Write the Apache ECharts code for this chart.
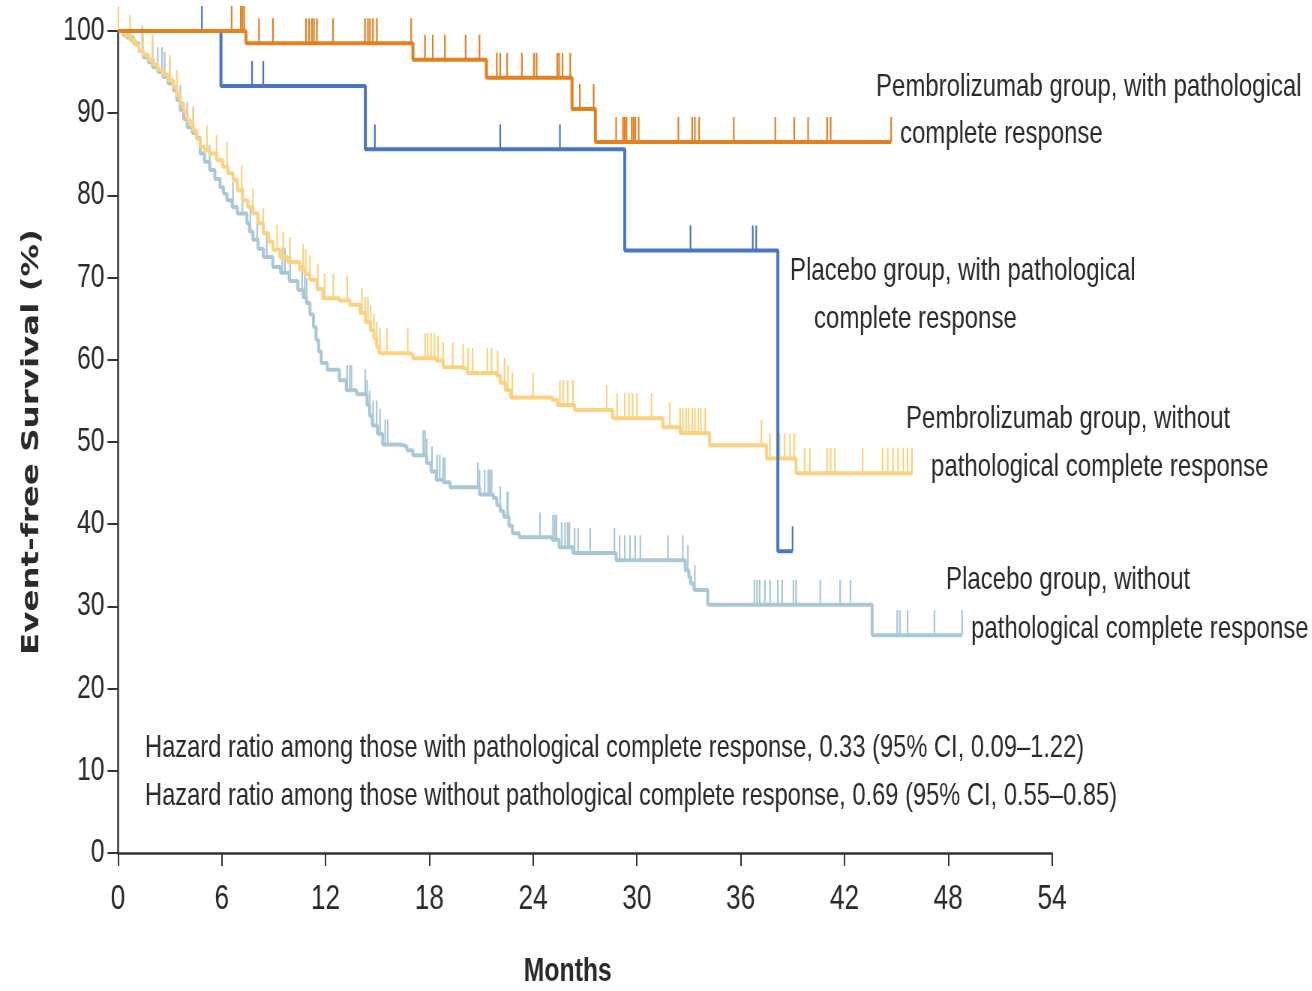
<!DOCTYPE html>
<html>
<head>
<meta charset="utf-8">
<script src="https://cdn.jsdelivr.net/npm/echarts@6/dist/echarts.min.js"></script>
<style>
  html, body { margin: 0; padding: 0; background: #fff; overflow: hidden; }
  #chart { height: 991px; transform-origin: 0 0; }
</style>
</head>
<body>
<div id="chart"></div>
<script>
// Event-free survival by treatment group and pathological response (Kaplan-Meier)

// Pembrolizumab, with pathological complete response: [month, survival %] after each event
const pembroPcrSteps = [[0,100],[7.4,98.5],[17.05,96.5],[21.3,94.3],[26.25,90.5],[27.6,86.5],[44.7,86.5]];
const pembroPcrCensored = [6.57,7.1,7.2,7.3,8.15,8.96,10.87,11.04,11.21,11.33,11.5,12.43,14.28,14.45,14.57,14.74,14.97,16.95,
  17.75,18.2,18.9,20.1,20.9,21.9,22.1,22.5,23.35,24.05,24.2,25.4,25.5,25.7,26.15,26.7,27.5,
  28.8,29.2,29.3,29.4,29.7,29.8,29.9,30.1,32.4,33.2,33.35,33.6,35.6,38.0,39.1,39.9,41.0,41.2,44.7];

// Placebo, with pathological complete response
const placeboPcrSteps = [[0,100],[5.95,93.3],[14.3,85.6],[29.3,73.3],[38.15,36.7],[39.0,36.7]];
const placeboPcrCensored = [4.85,7.75,8.4,14.85,22.1,25.55,33.1,36.7,36.9,39.0];

// Pembrolizumab, without pathological complete response
const pembroNoPcrSteps = [[0,100],[0.4,99.5],[0.7,98.9],[1.0,98.3],[1.2,97.6],[1.45,97.1],[1.75,96.5],[2.05,95.9],[2.3,95.3],
  [2.6,94.7],[2.9,94.0],[3.2,93.2],[3.4,92.2],[3.6,91.2],[3.8,90.2],[4.0,89.1],[4.2,88.5],[4.35,87.9],[4.55,86.9],[4.75,85.9],
  [5.0,85.5],[5.3,85.1],[5.7,84.3],[6.05,83.5],[6.35,82.7],[6.65,81.9],[6.9,80.6],[7.2,79.4],[7.5,78.6],[7.8,77.8],[8.1,76.6],
  [8.4,75.4],[8.7,74.4],[8.95,73.4],[9.35,72.5],[9.8,71.9],[10.5,71.0],[10.8,70.4],[11.1,69.7],[11.5,68.6],[11.85,67.5],
  [12.8,67.2],[13.4,66.7],[14.0,65.7],[14.3,64.6],[14.6,63.6],[14.8,62.6],[14.95,61.6],[15.1,60.8],[16.9,60.6],[17.05,60.2],
  [18.4,59.9],[18.8,59.1],[19.8,58.9],[20.2,58.4],[21.9,58.1],[22.1,57.2],[22.4,56.3],[22.7,55.4],[25.1,55.1],[25.4,54.5],
  [26.4,53.9],[28.6,52.9],[31.5,51.8],[32.5,51.1],[34.2,49.6],[37.5,48.0],[39.2,46.2],[45.95,46.2]];
const pembroNoPcrCensored = [0.02,0.7,1.45,2.0,3.0,3.4,4.35,5.15,5.7,6.3,7.15,7.8,8.4,9.2,9.55,9.95,10.7,10.85,11.1,11.55,11.95,
  12.45,13.25,14.1,14.3,14.45,14.6,14.8,14.95,15.15,15.55,16.75,17.75,17.9,18.1,18.3,18.5,18.8,19.35,19.95,20.25,20.5,
  21.35,21.6,21.95,22.35,22.55,22.8,24.0,25.55,25.75,26.0,26.3,28.25,28.85,29.3,29.55,29.75,30.0,30.85,31.9,
  32.5,32.65,32.85,33.0,33.2,33.35,33.55,33.7,33.95,37.2,37.7,38.25,38.55,38.85,39.1,39.7,40.0,41.0,41.2,41.45,
  43.05,44.2,44.5,44.8,45.1,45.4,45.65,45.9];

// Placebo, without pathological complete response
const placeboNoPcrSteps = [[0,100],[0.3,99.5],[0.5,99.2],[0.9,98.5],[1.2,97.6],[1.45,96.8],[1.75,96.2],[2.0,95.6],[2.3,95.0],
  [2.6,94.4],[2.9,93.6],[3.2,92.8],[3.4,91.6],[3.6,90.4],[3.8,89.3],[4.0,88.3],[4.3,87.6],[4.55,87.0],[4.75,85.1],[5.0,84.1],
  [5.3,83.1],[5.6,82.0],[5.9,81.0],[6.1,80.2],[6.3,79.4],[6.6,78.6],[6.9,77.8],[7.45,76.6],[7.6,75.6],[7.8,74.6],[8.1,73.5],
  [8.4,72.5],[8.95,71.3],[9.4,70.6],[9.9,69.6],[10.4,68.5],[10.7,67.6],[10.9,66.9],[11.1,65.5],[11.3,64.0],[11.45,62.4],
  [11.6,61.0],[11.75,59.6],[12.1,58.8],[12.8,57.5],[13.2,56.3],[13.8,55.8],[14.4,54.5],[14.55,53.2],[14.7,52.0],[15.0,51.0],
  [15.3,49.7],[16.3,49.5],[16.7,49.0],[17.05,48.4],[17.85,47.4],[18.1,46.4],[18.4,45.4],[18.8,45.1],[19.2,44.5],[20.9,43.6],
  [21.7,43.2],[21.9,42.3],[22.1,41.6],[22.3,40.9],[22.6,39.8],[22.8,38.9],[23.2,38.4],[25.1,38.1],[25.5,37.2],[26.3,36.5],
  [28.8,35.6],[32.8,34.4],[33.0,33.6],[33.1,32.8],[33.3,32.0],[34.1,30.2],[43.6,26.5],[48.8,26.5]];
const placeboNoPcrCensored = [1.4,2.0,2.3,2.55,2.7,3.0,3.6,4.0,4.35,5.3,6.65,7.2,7.65,8.05,8.6,9.5,9.65,9.95,10.65,10.8,10.9,
  13.25,13.4,13.5,14.3,14.4,14.55,14.75,14.95,15.15,15.45,15.6,17.65,17.75,17.85,18.15,18.45,18.6,18.8,18.9,
  20.8,20.9,21.2,21.4,21.5,21.6,22.1,22.5,22.55,24.4,25.15,25.25,25.35,25.65,25.85,26.0,26.1,26.4,26.6,
  27.3,28.7,29.0,29.3,29.6,29.9,30.2,31.8,32.65,32.95,33.35,36.8,36.95,37.1,37.4,37.7,38.15,38.4,39.05,39.2,
  40.6,41.75,42.35,45.05,45.2,45.65,47.2,48.8];

// Curve labels and hazard-ratio notes
const curveLabels = [
  'Pembrolizumab group, with pathological', 'complete response',
  'Placebo group, with pathological', 'complete response',
  'Pembrolizumab group, without', 'pathological complete response',
  'Placebo group, without', 'pathological complete response'
];
const hazardNotes = [
  'Hazard ratio among those with pathological complete response, 0.33 (95% CI, 0.09\u20131.22)',
  'Hazard ratio among those without pathological complete response, 0.69 (95% CI, 0.55\u20130.85)'
];
const xAxisTitle = 'Months';
const yAxisTitle = 'Event-free Survival (%)';

// ---- layout ----
const SX = 0.75;                 // horizontal squeeze applied to the whole figure
const VIEW_W = 1312, VIEW_H = 991;
const W = VIEW_W / SX;
const el = document.getElementById('chart');
el.style.width = W + 'px';
el.style.transform = 'scaleX(' + SX + ')';

const PLOT_L = 118, PLOT_R = 1052, PLOT_T = 31, PLOT_B = 853;   // screen pixels
const TICK_H = 25;               // censor mark height, px

const COLORS = {
  pembroPcr: '#E5801E',
  placeboPcr: '#4676C4',
  pembroNoPcr: '#FCD27E',
  placeboNoPcr: '#A8C8D8'
};

function levelAt(steps, t) {
  let v = steps[0][1];
  for (const [x, y] of steps) { if (x <= t) v = y; else break; }
  return v;
}

function curve(name, steps, color, width, z) {
  return {
    name, type: 'line', step: 'end', data: steps, symbol: 'none',
    lineStyle: { color, width }, z, silent: true, animation: false
  };
}

function censorMarks(name, times, steps, color, z) {
  return {
    name: name + ' censored', type: 'custom', z, silent: true, animation: false,
    data: times.map(t => [t, levelAt(steps, t)]),
    renderItem: (params, api) => {
      const p = api.coord([api.value(0), api.value(1)]);
      return {
        type: 'line',
        shape: { x1: p[0], y1: p[1], x2: p[0], y2: p[1] - TICK_H },
        style: { stroke: color, lineWidth: 2.2 }
      };
    }
  };
}

const textFont = { fontFamily: '"Liberation Sans", Arial, sans-serif', fontSize: 32, fill: '#2a2a2a' };
const labelPos = [[876, 87], [900, 134], [790, 271], [814, 319], [906, 419], [931, 467], [946, 580], [971, 629]];
const hazardPos = [[145, 748], [145, 796]];

const graphics = [];
curveLabels.forEach((t, i) => graphics.push({
  type: 'text', x: labelPos[i][0] / SX, y: labelPos[i][1], silent: true,
  style: Object.assign({ text: t, verticalAlign: 'middle', textVerticalAlign: 'middle' }, textFont)
}));
hazardNotes.forEach((t, i) => graphics.push({
  type: 'text', x: hazardPos[i][0] / SX, y: hazardPos[i][1], silent: true,
  style: Object.assign({ text: t, verticalAlign: 'middle', textVerticalAlign: 'middle' }, textFont, { fontSize: 31.6 })
}));

const axisColor = '#333';
const tickFamily = '"Liberation Sans Narrow", "Liberation Sans", Arial, sans-serif';

const chart = echarts.init(el, null, { renderer: 'canvas', width: W, height: VIEW_H });
chart.setOption({
  backgroundColor: '#fff',
  animation: false,
  grid: {
    left: PLOT_L / SX, right: W - PLOT_R / SX, top: PLOT_T, bottom: VIEW_H - PLOT_B,
    containLabel: false, outerBoundsMode: 'none'
  },
  xAxis: {
    type: 'value', min: 0, max: 54, interval: 6,
    axisLine: { show: true, onZero: false, lineStyle: { color: axisColor, width: 2.5 } },
    axisTick: { show: true, length: 13, lineStyle: { color: axisColor, width: 2 } },
    axisLabel: { margin: 29, fontFamily: tickFamily, fontSize: 35, color: '#2a2a2a' },
    splitLine: { show: false },
    name: xAxisTitle, nameLocation: 'middle', nameGap: 102,
    nameTextStyle: { fontFamily: '"Liberation Sans", Arial, sans-serif', fontWeight: 'bold', fontSize: 33, color: '#2a2a2a', padding: [0, 46, 0, 0] }
  },
  yAxis: {
    type: 'value', min: 0, max: 100, interval: 10,
    axisLine: { show: true, lineStyle: { color: axisColor, width: 2.5 } },
    axisTick: { show: true, length: 14, lineStyle: { color: axisColor, width: 2 } },
    axisLabel: { margin: 18, fontFamily: tickFamily, fontSize: 33, color: '#2a2a2a' },
    splitLine: { show: false },
    name: yAxisTitle, nameLocation: 'middle', nameGap: 98, nameRotate: 90,
    nameTextStyle: { fontFamily: '"DejaVu Sans", sans-serif', fontWeight: 'bold', fontSize: 32.5, color: '#2a2a2a' }
  },
  series: [
    curve('Placebo, without pCR', placeboNoPcrSteps, COLORS.placeboNoPcr, 4, 2),
    censorMarks('Placebo, without pCR', placeboNoPcrCensored, placeboNoPcrSteps, COLORS.placeboNoPcr, 2),
    curve('Pembrolizumab, without pCR', pembroNoPcrSteps, COLORS.pembroNoPcr, 4, 3),
    censorMarks('Pembrolizumab, without pCR', pembroNoPcrCensored, pembroNoPcrSteps, COLORS.pembroNoPcr, 3),
    curve('Placebo, with pCR', placeboPcrSteps, COLORS.placeboPcr, 4, 4),
    censorMarks('Placebo, with pCR', placeboPcrCensored, placeboPcrSteps, COLORS.placeboPcr, 4),
    curve('Pembrolizumab, with pCR', pembroPcrSteps, COLORS.pembroPcr, 4, 5),
    censorMarks('Pembrolizumab, with pCR', pembroPcrCensored, pembroPcrSteps, COLORS.pembroPcr, 5)
  ],
  graphic: graphics
});
</script>
</body>
</html>
